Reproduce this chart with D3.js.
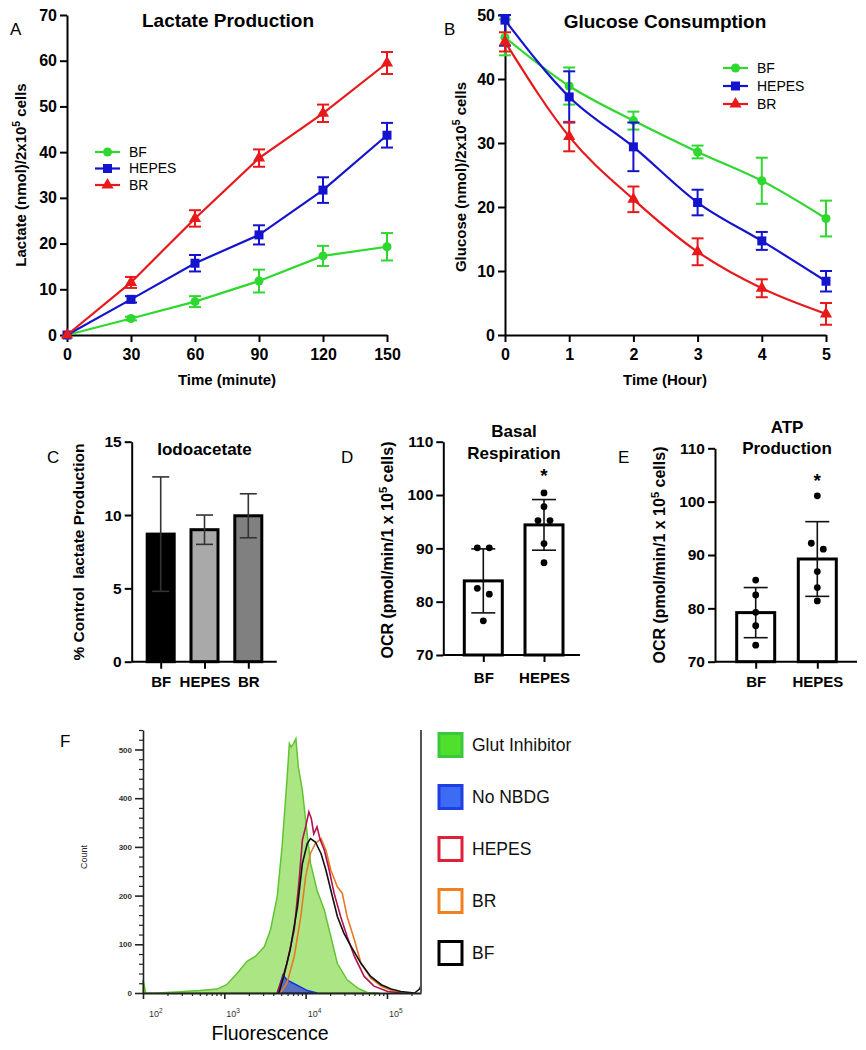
<!DOCTYPE html>
<html>
<head>
<meta charset="utf-8">
<script src="https://cdn.jsdelivr.net/npm/d3@7"></script>
<style>
  body { margin: 0; background: #fff; }
  svg { display: block; font-family: "Liberation Sans", Arial, sans-serif; }
</style>
</head>
<body>
<svg id="fig" width="866" height="1050"></svg>
<script>
// ================= DATA =================

// Panel A: lactate production (mean, error) per group over time (minutes)
const lacTime = [0, 30, 60, 90, 120, 150];
const lacBF = [0, 3.6, 7.3, 11.8, 17.3, 19.3];
const lacBFErr = [0, 0.4, 1.2, 2.5, 2.2, 3.0];
const lacHEPES = [0, 7.8, 15.7, 21.9, 31.7, 43.7];
const lacHEPESErr = [0, 0.7, 1.8, 2.1, 2.8, 2.7];
const lacBR = [0, 11.5, 25.5, 38.7, 48.5, 59.5];
const lacBRErr = [0, 1.2, 1.8, 1.9, 1.9, 2.4];

// Panel B: glucose consumption over time (hours)
const gluTime = [0, 1, 2, 3, 4, 5];
const gluBF = [46.5, 38.9, 33.5, 28.6, 24.1, 18.2];
const gluBFErr = [2.8, 2.9, 1.4, 1.0, 3.6, 2.8];
const gluHEPES = [49.2, 37.2, 29.4, 20.7, 14.7, 8.4];
const gluHEPESErr = [4.0, 4.0, 3.8, 2.0, 1.4, 1.6];
const gluBR = [45.8, 31.0, 21.2, 13.0, 7.3, 3.3];
const gluBRErr = [1.5, 2.3, 2.0, 2.1, 1.4, 1.7];

const lineGroups = ["BF", "HEPES", "BR"];

// Panel C: iodoacetate
const iodoCats = ["BF", "HEPES", "BR"];
const iodoVals = [8.7, 9.0, 9.95];
const iodoErr = [3.9, 1.0, 1.5];

// Panel D: basal respiration
const ocrCats = ["BF", "HEPES"];
const basalVals = [83.9, 94.4];
const basalSD = [6.0, 4.75];
const basalPtsBF = [90.1, 90.1, 82.5, 81.4, 76.4];
const basalPtsHEPES = [100.4, 97.8, 95.2, 95.2, 90.9, 87.3];

// Panel E: ATP production
const atpVals = [79.2, 89.25];
const atpSD = [4.7, 7.0];
const atpPtsBF = [85.3, 82.5, 79.25, 76.75, 73.1];
const atpPtsHEPES = [101.1, 92.2, 91.1, 86.9, 83.9, 81.4];

// Panel F: flow cytometry histograms (fluorescence, count)
const glutFl = [100, 108, 150, 250, 316, 500, 810, 1070, 1450, 1900, 2400, 3100, 3700, 4470, 5130, 5890, 6310, 6610, 7080, 7590, 8130, 9120, 10000, 11500, 13800, 17000, 20400, 24500, 32400, 43700, 57500, 80000];
const glutCount = [27, 0, 0, 2, 3, 5, 8, 17, 41, 65, 75, 95, 130, 198, 300, 437, 512, 505, 512, 522, 464, 416, 355, 266, 211, 170, 116, 61, 27, 10, 1, 0];
const noNbdgFl = [4470, 5250, 5890, 7240, 8710, 10500, 13800];
const noNbdgCount = [0, 37, 27, 19, 12, 5, 0];
const hepesFl = [4470, 5130, 5890, 7240, 8320, 9120, 10000, 10960, 11750, 12590, 13800, 15140, 16980, 19500, 22390, 26920, 32360, 39810, 52480, 69180, 102300, 147900];
const hepesCount = [0, 27, 61, 130, 232, 314, 341, 372, 358, 327, 341, 314, 293, 252, 205, 157, 116, 75, 34, 14, 3, 0];
const brFl = [4900, 5890, 7240, 8710, 10000, 11480, 13180, 15490, 17780, 20420, 24550, 28180, 32360, 39810, 47860, 63100, 85110, 123000, 182000];
const brCount = [0, 20, 75, 157, 239, 287, 307, 317, 293, 252, 218, 205, 157, 109, 61, 31, 14, 3, 0];
const bfFl = [4680, 5370, 6460, 7940, 9120, 10470, 11480, 13180, 15490, 17780, 20420, 24550, 29510, 36310, 47860, 63100, 85110, 112200, 147900, 218800, 251000, 262144];
const bfCount = [0, 34, 89, 177, 266, 307, 317, 310, 286, 252, 211, 157, 123, 95, 61, 34, 17, 8, 3, 0, 8, 15];
const flowLegend = ["Glut Inhibitor", "No NBDG", "HEPES", "BR", "BF"];

// ================= HELPERS =================

const svg = d3.select("#fig");
const FONT = "'Liberation Sans', Arial, sans-serif";

// Black, bold axis look used by the GraphPad-style panels
function styleAxis(sel, fs) {
  sel.attr("font-family", FONT);
  sel.select(".domain").attr("stroke", "#000").attr("stroke-width", 2);
  sel.selectAll(".tick line").attr("stroke", "#000").attr("stroke-width", 2);
  sel.selectAll(".tick text").attr("fill", "#000").attr("font-size", fs).attr("font-weight", "bold");
}

// Text with a superscript piece (e.g. 10^5)
function supText(sel, before, sup, after, fs) {
  sel.append("tspan").text(before);
  sel.append("tspan").attr("dy", -fs * 0.4).attr("font-size", fs * 0.7).text(sup);
  sel.append("tspan").attr("dy", fs * 0.4).text(after);
}

function label(x, y, txt, fs, weight, anchor) {
  return svg.append("text").attr("x", x).attr("y", y).attr("font-size", fs)
    .attr("font-weight", weight || "normal").attr("text-anchor", anchor || "start").text(txt);
}

function yTitle(x, y, before, sup, after, fs) {
  const t = svg.append("text").attr("transform", `translate(${x},${y}) rotate(-90)`)
    .attr("text-anchor", "middle").attr("font-size", fs).attr("font-weight", "bold")
    .style("white-space", "pre");
  if (sup) supText(t, before, sup, after, fs); else t.text(before);
}

// ================= LINE PANELS (A, B) =================

function linePanel(cfg) {
  const g = svg.append("g");
  const x = d3.scaleLinear().domain(cfg.xDomain).range(cfg.xRange);
  const y = d3.scaleLinear().domain(cfg.yDomain).range(cfg.yRange);

  g.append("g").attr("transform", `translate(0,${cfg.yRange[0]})`)
    .call(d3.axisBottom(x).tickValues(cfg.xTicks).tickFormat(d3.format("d"))
      .tickSize(7).tickPadding(7).tickSizeOuter(0))
    .call(styleAxis, 16);
  g.append("g").attr("transform", `translate(${cfg.xRange[0]},0)`)
    .call(d3.axisLeft(y).tickValues(cfg.yTicks).tickFormat(d3.format("d"))
      .tickSize(7).tickPadding(3).tickSizeOuter(0))
    .call(styleAxis, 16);

  const line = d3.line().x(d => x(d.t)).y(d => y(d.v)).curve(cfg.curve);

  cfg.series.forEach(s => {
    const pts = cfg.times.map((t, i) => ({ t: t, v: s.vals[i], e: s.errs[i] }));
    g.append("path").datum(pts).attr("fill", "none").attr("stroke", s.color)
      .attr("stroke-width", 2.2).attr("d", line);

    // error bars, clipped to the axis range
    const eb = g.append("g").attr("stroke", s.color).attr("stroke-width", 2);
    pts.filter(p => p.e > 0).forEach(p => {
      const lo = y(Math.max(p.v - p.e, cfg.yDomain[0]));
      const hi = y(Math.min(p.v + p.e, cfg.yDomain[1]));
      eb.append("line").attr("x1", x(p.t)).attr("x2", x(p.t)).attr("y1", lo).attr("y2", hi);
      [lo, hi].forEach(yy => eb.append("line")
        .attr("x1", x(p.t) - 6).attr("x2", x(p.t) + 6).attr("y1", yy).attr("y2", yy));
    });

    g.selectAll(null).data(pts).enter().append("path")
      .attr("transform", p => `translate(${x(p.t)},${y(p.v)})`)
      .attr("d", d3.symbol(s.shape, s.size))
      .attr("fill", s.color);
  });

  // legend
  cfg.series.forEach((s, i) => {
    const ly = cfg.legend.y + i * cfg.legend.step;
    g.append("line").attr("x1", cfg.legend.x).attr("x2", cfg.legend.x + 25)
      .attr("y1", ly).attr("y2", ly).attr("stroke", s.color).attr("stroke-width", 2.2);
    g.append("path").attr("transform", `translate(${cfg.legend.x + 12.5},${ly})`)
      .attr("d", d3.symbol(s.shape, s.size)).attr("fill", s.color);
    g.append("text").attr("x", cfg.legend.x + 34).attr("y", ly).attr("dy", "0.35em")
      .attr("font-size", 14).text(s.name);
  });
}

const lineStyle = [
  { color: "#2ed82e", shape: d3.symbolCircle, size: 64 },
  { color: "#1414cf", shape: d3.symbolSquare, size: 81 },
  { color: "#e8191b", shape: d3.symbolTriangle, size: 64 }
];

linePanel({
  xDomain: [0, 150], xRange: [67, 387], xTicks: lacTime,
  yDomain: [0, 70], yRange: [335, 15], yTicks: d3.range(0, 71, 10),
  times: lacTime, curve: d3.curveLinear,
  series: [
    Object.assign({ name: lineGroups[0], vals: lacBF, errs: lacBFErr }, lineStyle[0]),
    Object.assign({ name: lineGroups[1], vals: lacHEPES, errs: lacHEPESErr }, lineStyle[1]),
    Object.assign({ name: lineGroups[2], vals: lacBR, errs: lacBRErr }, lineStyle[2])
  ],
  legend: { x: 95, y: 152, step: 16.5 }
});

linePanel({
  xDomain: [0, 5], xRange: [505, 826], xTicks: gluTime,
  yDomain: [0, 50], yRange: [335, 15], yTicks: d3.range(0, 51, 10),
  times: gluTime, curve: d3.curveMonotoneX,
  series: [
    Object.assign({ name: lineGroups[0], vals: gluBF, errs: gluBFErr }, lineStyle[0]),
    Object.assign({ name: lineGroups[1], vals: gluHEPES, errs: gluHEPESErr }, lineStyle[1]),
    Object.assign({ name: lineGroups[2], vals: gluBR, errs: gluBRErr }, lineStyle[2])
  ],
  legend: { x: 723, y: 68, step: 18 }
});

// titles and labels for A and B
label(10, 35, "A", 17);
label(228, 27, "Lactate Production", 19, "bold", "middle");
yTitle(26, 175, "Lactate (nmol)/2x10", "5", " cells", 15);
label(227, 385, "Time (minute)", 15, "bold", "middle");

label(444, 35, "B", 17);
label(665, 28, "Glucose Consumption", 19, "bold", "middle");
yTitle(466, 177, "Glucose (nmol)/2x10", "5", " cells", 15);
label(665, 385, "Time (Hour)", 15, "bold", "middle");

// ================= BAR PANELS (C, D, E) =================

// spread near-equal points sideways, like a scatter dot plot
function swarm(vals, y, gap) {
  const sorted = vals.slice().sort((a, b) => b - a);
  const rows = [];
  sorted.forEach(v => {
    const last = rows[rows.length - 1];
    if (last && Math.abs(y(last[0]) - y(v)) < 8) last.push(v); else rows.push([v]);
  });
  const out = [];
  rows.forEach(r => r.forEach((v, j) => out.push({ v: v, dx: (j - (r.length - 1) / 2) * gap })));
  return out;
}

function barPanel(cfg) {
  const g = svg.append("g");
  const x = d3.scalePoint().domain(cfg.cats).range(cfg.xRange);
  const y = d3.scaleLinear().domain(cfg.yDomain).range(cfg.yRange);
  const base = cfg.yRange[0];

  // bars
  g.selectAll(null).data(cfg.cats).enter().append("rect")
    .attr("x", c => x(c) - cfg.barW / 2)
    .attr("y", (c, i) => y(cfg.vals[i]))
    .attr("width", cfg.barW)
    .attr("height", (c, i) => base - y(cfg.vals[i]))
    .attr("fill", (c, i) => cfg.fills[i])
    .attr("stroke", "#000").attr("stroke-width", 3);

  // error bars
  const eb = g.append("g").attr("stroke", cfg.errColor).attr("stroke-width", 1.6);
  cfg.cats.forEach((c, i) => {
    const lo = y(cfg.vals[i] - cfg.errs[i]), hi = y(cfg.vals[i] + cfg.errs[i]);
    eb.append("line").attr("x1", x(c)).attr("x2", x(c)).attr("y1", lo).attr("y2", hi);
    [lo, hi].forEach(yy => eb.append("line").attr("x1", x(c) - cfg.capW / 2)
      .attr("x2", x(c) + cfg.capW / 2).attr("y1", yy).attr("y2", yy));
  });

  // individual points
  if (cfg.points) {
    cfg.cats.forEach((c, i) => {
      g.selectAll(null).data(swarm(cfg.points[i], y, 12)).enter().append("circle")
        .attr("cx", p => x(c) + p.dx).attr("cy", p => y(p.v)).attr("r", 3.4).attr("fill", "#000");
    });
  }

  // axes
  g.append("g").attr("transform", `translate(0,${base})`)
    .call(d3.axisBottom(x).tickSize(7).tickPadding(cfg.xPad).tickSizeOuter(0))
    .call(styleAxis, 15)
    .call(a => a.select(".domain").attr("d", `M${cfg.axisX[0]},0H${cfg.axisX[1]}`));
  g.append("g").attr("transform", `translate(${cfg.axisX[0]},0)`)
    .call(d3.axisLeft(y).tickValues(cfg.yTicks).tickSize(7).tickPadding(3).tickSizeOuter(0))
    .call(styleAxis, 15.5);

  return { x: x, y: y };
}

barPanel({
  cats: iodoCats, vals: iodoVals, errs: iodoErr,
  fills: ["#000000", "#a9a9a9", "#808080"], errColor: "#333",
  xRange: [160.7, 248.3], axisX: [131.7, 276.7], barW: 27, capW: 17, xPad: 8,
  yDomain: [0, 15], yRange: [661.7, 441.7], yTicks: [0, 5, 10, 15]
});
label(47, 463, "C", 17);
label(204.5, 455, "Iodoacetate", 17, "bold", "middle");
yTitle(84, 552, "% Control  lactate Production", null, null, 15.5);

const pD = barPanel({
  cats: ocrCats, vals: basalVals, errs: basalSD, points: [basalPtsBF, basalPtsHEPES],
  fills: ["#fff", "#fff"], errColor: "#111",
  xRange: [483.3, 544], axisX: [443.3, 580], barW: 38, capW: 24, xPad: 10,
  yDomain: [70, 110], yRange: [655, 441.7], yTicks: [70, 80, 90, 100, 110]
});
label(341, 463, "D", 17);
label(514, 437, "Basal", 17, "bold", "middle");
label(514, 459, "Respiration", 17, "bold", "middle");
label(pD.x("HEPES"), 482, "*", 19, "bold", "middle");
yTitle(393, 550, "OCR (pmol/min/1 x 10", "5", " cells)", 16);

const pE = barPanel({
  cats: ocrCats, vals: atpVals, errs: atpSD, points: [atpPtsBF, atpPtsHEPES],
  fills: ["#fff", "#fff"], errColor: "#111",
  xRange: [755.7, 817.3], axisX: [715, 857], barW: 38, capW: 24, xPad: 8,
  yDomain: [70, 110], yRange: [661.7, 448.3], yTicks: [70, 80, 90, 100, 110]
});
label(618, 463, "E", 17);
label(787, 433, "ATP", 17, "bold", "middle");
label(787, 454, "Production", 17, "bold", "middle");
label(pE.x("HEPES"), 487, "*", 19, "bold", "middle");
yTitle(665, 555, "OCR (pmol/min/1 x 10", "5", " cells)", 16);

// ================= PANEL F: FLOW HISTOGRAMS =================

const xF = d3.scaleLog().domain([100, 262144]).range([143, 421]);
const yF = d3.scaleLinear().domain([0, 540]).range([993, 730]);
const gF = svg.append("g");

const toPts = (fl, ct) => fl.map((f, i) => [f, ct[i]]);
const area = d3.area().x(d => xF(d[0])).y0(yF(0)).y1(d => yF(d[1]));
const curveLine = d3.line().x(d => xF(d[0])).y(d => yF(d[1]));

gF.append("path").datum(toPts(glutFl, glutCount)).attr("d", area)
  .attr("fill", "#ace584").attr("stroke", "#62c432").attr("stroke-width", 1.5);
gF.append("path").datum(toPts(noNbdgFl, noNbdgCount)).attr("d", area)
  .attr("fill", "#4a5cc9").attr("fill-opacity", 0.85).attr("stroke", "#1234e6").attr("stroke-width", 1.5);
gF.append("path").datum(toPts(brFl, brCount)).attr("d", curveLine)
  .attr("fill", "none").attr("stroke", "#e67a26").attr("stroke-width", 1.6);
gF.append("path").datum(toPts(hepesFl, hepesCount)).attr("d", curveLine)
  .attr("fill", "none").attr("stroke", "#b3124e").attr("stroke-width", 1.6);
gF.append("path").datum(toPts(bfFl, bfCount)).attr("d", curveLine)
  .attr("fill", "none").attr("stroke", "#111").attr("stroke-width", 1.6);

// y axis with minor ticks
const yMajor = d3.range(0, 501, 100);
const yMinor = d3.range(0, 541, 20).filter(v => v % 100 !== 0);
gF.append("g").attr("transform", "translate(143,0)")
  .call(d3.axisLeft(yF).tickValues(yMinor).tickSize(4).tickFormat("").tickSizeOuter(0))
  .call(a => a.selectAll("line").attr("stroke", "#222").attr("stroke-width", 1.2))
  .call(a => a.select(".domain").attr("stroke", "#222").attr("stroke-width", 1.6));
gF.append("g").attr("transform", "translate(143,0)")
  .call(d3.axisLeft(yF).tickValues(yMajor).tickSize(8).tickPadding(3).tickSizeOuter(0))
  .call(a => a.select(".domain").remove())
  .call(a => a.selectAll("line").attr("stroke", "#222").attr("stroke-width", 1.6))
  .call(a => a.selectAll("text").attr("font-size", 8).attr("font-weight", "bold")
    .attr("fill", "#333").attr("font-family", FONT));

// x axis (log) with decade labels
const xMajor = [1e2, 1e3, 1e4, 1e5];
const xMinor = [];
[2, 3, 4, 5].forEach(d => d3.range(2, 10).forEach(k => {
  const v = k * Math.pow(10, d);
  if (v <= 262144) xMinor.push(v);
}));
gF.append("g").attr("transform", "translate(0,993)")
  .call(d3.axisBottom(xF).tickValues(xMinor).tickSize(3).tickFormat("").tickSizeOuter(0))
  .call(a => a.selectAll("line").attr("stroke", "#222").attr("stroke-width", 1.2))
  .call(a => a.select(".domain").attr("stroke", "#222").attr("stroke-width", 1.8));
gF.append("g").attr("transform", "translate(0,993)")
  .call(d3.axisBottom(xF).tickValues(xMajor).tickSize(6).tickFormat("").tickSizeOuter(0))
  .call(a => a.select(".domain").remove())
  .call(a => a.selectAll("line").attr("stroke", "#222").attr("stroke-width", 1.6));
xMajor.forEach((v, i) => {
  const t = gF.append("text").attr("x", xF(v) + (i === 0 ? 6 : 2)).attr("y", 1017)
    .attr("font-size", 9).attr("fill", "#333");
  t.append("tspan").text("10");
  t.append("tspan").attr("dy", -4).attr("font-size", 6.5).text(Math.log10(v));
});

// right frame line
gF.append("line").attr("x1", 421).attr("x2", 421).attr("y1", 730).attr("y2", 993)
  .attr("stroke", "#555").attr("stroke-width", 2);

label(60, 747, "F", 17);
label(270, 1040, "Fluorescence", 19.5, "normal", "middle");
svg.append("text").attr("transform", "translate(87,857) rotate(-90)")
  .attr("text-anchor", "middle").attr("font-size", 9).attr("fill", "#222").text("Count");

// legend for F
const legFill = ["#4fe02d", "#3b6cf3", "#fff", "#fff", "#fff"];
const legStroke = ["#3cc83c", "#1f3fe0", "#e0203a", "#f08020", "#000"];
flowLegend.forEach((name, i) => {
  const cy = 745 + i * 52;
  svg.append("rect").attr("x", 439).attr("y", cy - 11.5).attr("width", 23).attr("height", 23)
    .attr("fill", legFill[i]).attr("stroke", legStroke[i]).attr("stroke-width", 3);
  svg.append("text").attr("x", 472).attr("y", cy).attr("dy", "0.35em")
    .attr("font-size", 17.5).attr("fill", "#111").text(name);
});
</script>
</body>
</html>
